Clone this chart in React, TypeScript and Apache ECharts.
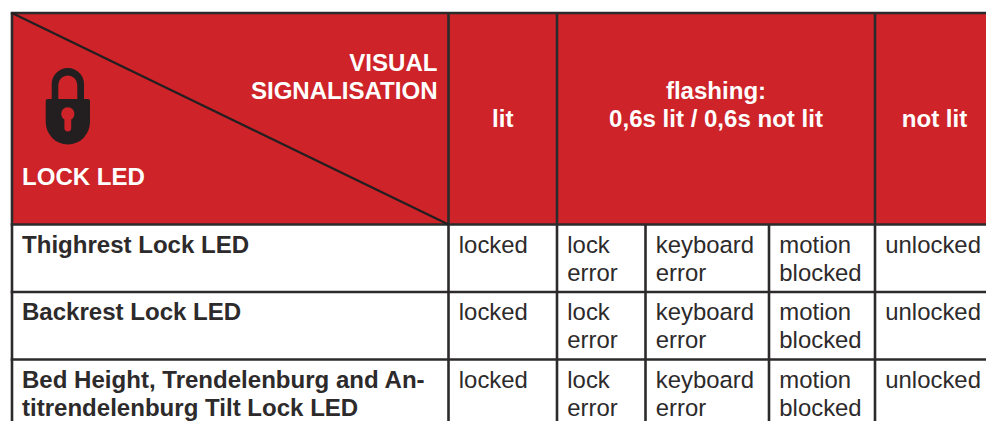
import React, { useEffect, useRef } from "react";
import * as echarts from "echarts";

const cornerTop = ["VISUAL", "SIGNALISATION"];
const cornerBottom = "LOCK LED";
const headers = [
  { lines: ["lit"], from: 1, to: 2 },
  { lines: ["flashing:", "0,6s lit / 0,6s not lit"], from: 2, to: 5 },
  { lines: ["not lit"], from: 5, to: 6 },
];
const rowLabels = [
  ["Thighrest Lock LED"],
  ["Backrest Lock LED"],
  ["Bed Height, Trendelenburg and An-", "titrendelenburg Tilt Lock LED"],
];
const states = [["locked"], ["lock", "error"], ["keyboard", "error"], ["motion", "blocked"], ["unlocked"]];

const colEdges = [12, 448.5, 557, 645.5, 769, 875, 994];
const rowEdges = [13, 224.5, 292, 359.5, 421];
const rowBaselines = [252, 319.6, 387.6];
const RED = "#ce2329";
const INK = "#2d2a2b";
const FONT = '"Liberation Sans", Arial, sans-serif';
const SIZE = 23.9;
const BOLD_SIZE = 24.05;
const LINE = 28.2;
const TOP_OFFSET = 20;
const LOCK =
  "M51.7 99L51.7 84A16.15 16 0 0 1 84 84L84 99L88 99Q90 99 90 101L90 122A22.15 22.5 0 0 1 45.7 122L45.7 101Q45.7 99 47.7 99Z" +
  "M58.3 99L77.3 99L77.3 85A9.5 9.5 0 0 0 58.3 85Z" +
  "M64.4 119.5L64.4 128A3.4 3.4 0 0 0 71.2 128L71.2 119.5A6.6 6.6 0 1 0 64.4 119.5Z";

echarts.graphic.registerShape("lock", echarts.graphic.extendPath(LOCK, {}));

function txt(text: string, x: number, baseline: number, fill: string, bold: boolean, align = "left") {
  return {
    type: "text",
    x,
    y: baseline - TOP_OFFSET,
    silent: true,
    style: {
      text,
      fill,
      fontFamily: FONT,
      fontSize: bold ? BOLD_SIZE : SIZE,
      fontWeight: bold ? "bold" : "normal",
      textAlign: align,
      textVerticalAlign: "top",
    },
  };
}

function line(x1: number, y1: number, x2: number, y2: number, w = 2.6, color = INK) {
  return { type: "line", silent: true, shape: { x1, y1, x2, y2 }, style: { stroke: color, lineWidth: w } };
}

export default function App() {
  const ref = useRef<HTMLDivElement>(null);
  useEffect(() => {
    document.body.style.margin = "0";
    const chart = echarts.init(ref.current!, null, { renderer: "svg" });
    const els: any[] = [];
    els.push({
      type: "rect",
      silent: true,
      shape: { x: colEdges[0], y: rowEdges[0], width: colEdges[6] - colEdges[0], height: rowEdges[1] - rowEdges[0] },
      style: { fill: RED },
    });
    // grid lines
    rowEdges.slice(0, 4).forEach((y) => els.push(line(colEdges[0] - 1.3, y, colEdges[6], y)));
    [0, 1, 2, 5].forEach((i) => els.push(line(colEdges[i], rowEdges[0], colEdges[i], rowEdges[4])));
    [3, 4].forEach((i) => els.push(line(colEdges[i], rowEdges[1], colEdges[i], rowEdges[4])));
    els.push(line(colEdges[0], rowEdges[0], colEdges[1], rowEdges[1], 2.4, "#231f20"));
    els.push({ type: "lock", silent: true, x: 0, y: 0, style: { fill: "#231f20" } });
    // header
    cornerTop.forEach((t, i) => els.push(txt(t, 437.5, 70 + i * LINE, "#fff", true, "right")));
    els.push(txt(cornerBottom, 22, 184.8, "#fff", true));
    headers.forEach((h) => {
      const cx = (colEdges[h.from] + colEdges[h.to]) / 2;
      const first = h.lines.length === 1 ? 126.7 : 98.5;
      h.lines.forEach((t, i) => els.push(txt(t, cx, first + i * LINE, "#fff", true, "center")));
    });
    // rows
    rowLabels.forEach((lines, r) => {
      const top = rowBaselines[r];
      lines.forEach((t, i) => els.push(txt(t, 22, top + i * LINE, INK, true)));
      states.forEach((cell, c) => {
        cell.forEach((t, i) => els.push(txt(t, colEdges[c + 1] + 10.3, top + i * LINE, INK, false)));
      });
    });
    chart.setOption({ animation: false, backgroundColor: "#fff", graphic: { elements: els } });
    return () => chart.dispose();
  }, []);
  return <div ref={ref} style={{ position: "absolute", left: 0, top: 0, width: 986, height: 421 }} />;
}
